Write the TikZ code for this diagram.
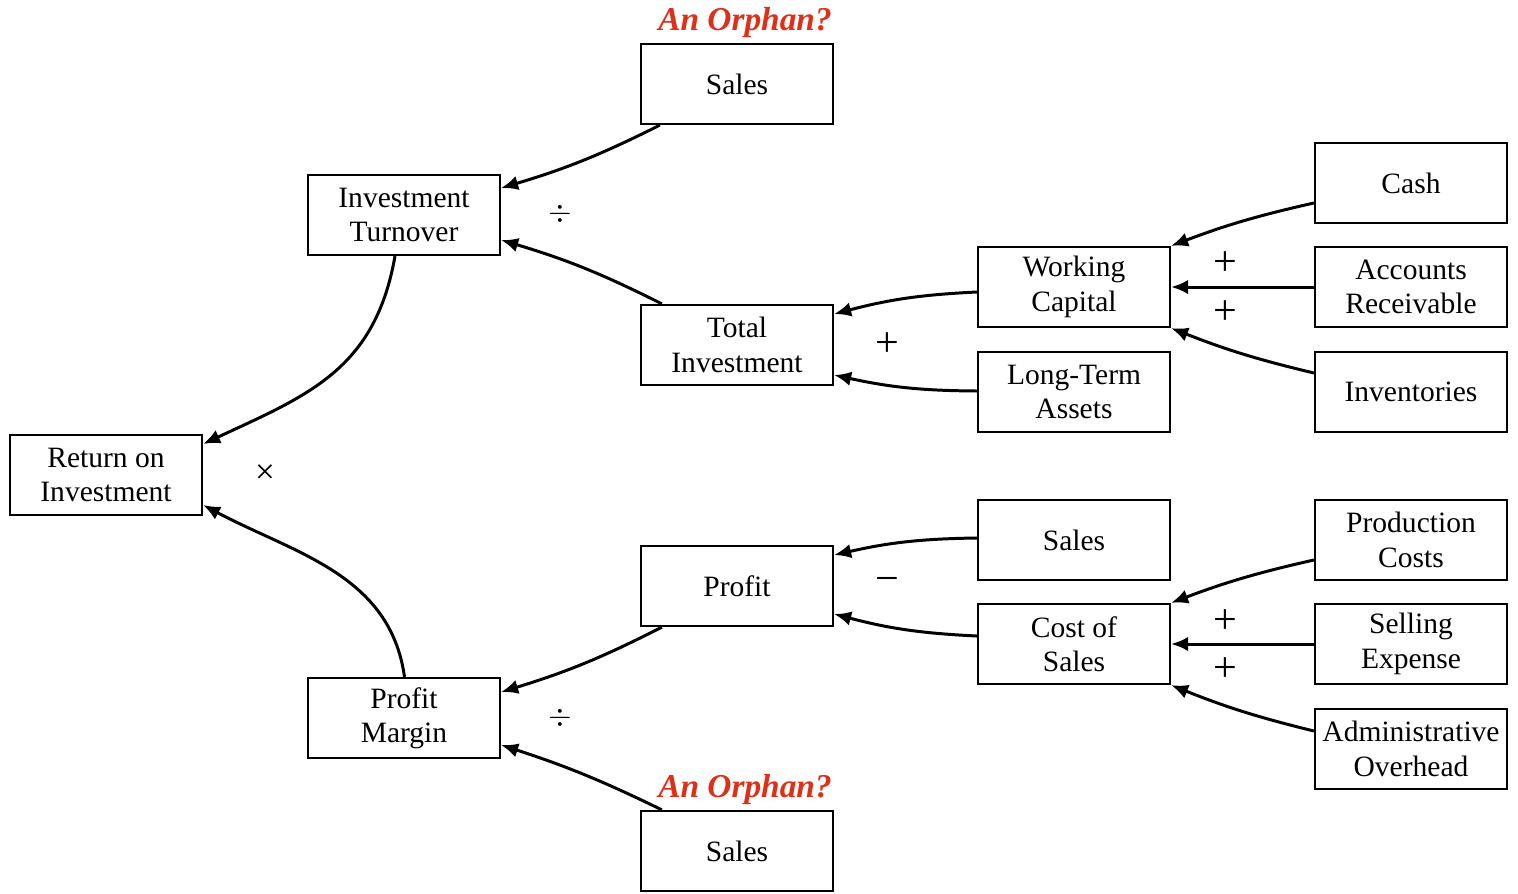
\documentclass[tikz,border=0pt]{standalone}
\usepackage{fontspec}
\setmainfont{Liberation Serif}
\usetikzlibrary{arrows.meta}
\definecolor{orphanred}{RGB}{222,48,24}

\begin{document}
\begin{tikzpicture}[
  box/.style={
    draw, line width=1.3pt, minimum width=3.84cm, minimum height=1.6cm,
    align=center, font=\fontsize{16.8}{19.5}\selectfont, inner sep=1pt
  },
  link/.style={
    line width=1.7pt, -{Latex[length=3.4mm,width=2.9mm]}
  },
  op/.style={
    font=\fontsize{24}{26}\selectfont
  },
  orphan/.style={
    text=orphanred, font=\fontsize{19}{22}\selectfont\bfseries\itshape
  }
]

% canvas
\useasboundingbox (0,0) rectangle (30.36,-17.86);

% top branch
\node[box] (s1)   at (14.74,-1.68) {Sales};
\node[box] (it)   at (8.08,-4.30)  {Investment\\Turnover};
\node[box] (ti)   at (14.74,-6.90) {Total\\Investment};
\node[box] (wc)   at (21.48,-5.74) {Working\\Capital};
\node[box] (lta)  at (21.48,-7.84) {Long-Term\\Assets};
\node[box] (cash) at (28.22,-3.66) {Cash};
\node[box] (ar)   at (28.22,-5.74) {Accounts\\Receivable};
\node[box] (inv)  at (28.22,-7.84) {Inventories};

% root
\node[box] (roi)  at (2.12,-9.50)  {Return on\\Investment};

% bottom branch
\node[box] (s2)   at (21.48,-10.80) {Sales};
\node[box] (prof) at (14.74,-11.72) {Profit};
\node[box] (pc)   at (28.22,-10.80) {Production\\Costs};
\node[box] (cos)  at (21.48,-12.88) {Cost of\\Sales};
\node[box] (se)   at (28.22,-12.88) {Selling\\Expense};
\node[box] (ao)   at (28.22,-14.98) {Administrative\\Overhead};
\node[box] (pm)   at (8.08,-14.36)  {Profit\\Margin};
\node[box] (s3)   at (14.74,-17.02) {Sales};

% orphan tags
\node[orphan] (o1) at (14.90,-0.44)  {An Orphan?};
\node[orphan] (o2) at (14.90,-15.78) {An Orphan?};

% operators
\node[op, font=\fontsize{18}{20}\selectfont] (d1) at (11.20,-4.28) {$\div$};
\node[op] (p1) at (17.74,-6.90)  {+};
\node[op] (p2) at (24.50,-5.28)  {+};
\node[op] (p3) at (24.50,-6.26)  {+};
\node[op, font=\fontsize{20}{22}\selectfont] (x1) at (5.30,-9.48) {×};
\node[op] (m1) at (17.74,-11.70) {−};
\node[op] (p4) at (24.50,-12.44) {+};
\node[op] (p5) at (24.50,-13.40) {+};
\node[op, font=\fontsize{18}{20}\selectfont] (d2) at (11.20,-14.36) {$\div$};

% connectors, top
\draw[link] ([xshift=4mm]s1.south west) to[bend left=5] ([yshift=5.4mm]it.east);
\draw[link] ([xshift=4.4mm]ti.north west) to[bend right=5] ([yshift=-5mm]it.east);
\draw[link] ([xshift=-1.8mm]it.south) to[out=-100,in=25,looseness=1.1] ([yshift=6.2mm]roi.east);
\draw[link] ([yshift=-1mm]wc.west) to[bend right=6] ([yshift=6.2mm]ti.east);
\draw[link] ([yshift=0.2mm]lta.west) to[bend left=6] ([yshift=-6mm]ti.east);
\draw[link] ([yshift=-4mm]cash.west) to[bend right=4] (wc.north east);
\draw[link] (ar.west) -- (wc.east);
\draw[link] ([yshift=3.8mm]inv.west) to[bend left=4] (wc.south east);

% connectors, bottom
\draw[link] ([xshift=0.1mm]pm.north) to[out=98,in=-28] ([yshift=-6mm]roi.east);
\draw[link] ([xshift=4.4mm]prof.south west) to[bend left=5] ([yshift=5.2mm]pm.east);
\draw[link] ([xshift=4.4mm]s3.north west) to[bend right=4] ([yshift=-5.4mm]pm.east);
\draw[link] ([yshift=0.4mm]s2.west) to[bend right=6] ([yshift=6.2mm]prof.east);
\draw[link] ([yshift=1.6mm]cos.west) to[bend left=6] ([yshift=-5.6mm]prof.east);
\draw[link] ([yshift=-4.0mm]pc.west) to[bend right=4] (cos.north east);
\draw[link] (se.west) -- (cos.east);
\draw[link] ([yshift=3.6mm]ao.west) to[bend left=4] (cos.south east);

\end{tikzpicture}
\end{document}
